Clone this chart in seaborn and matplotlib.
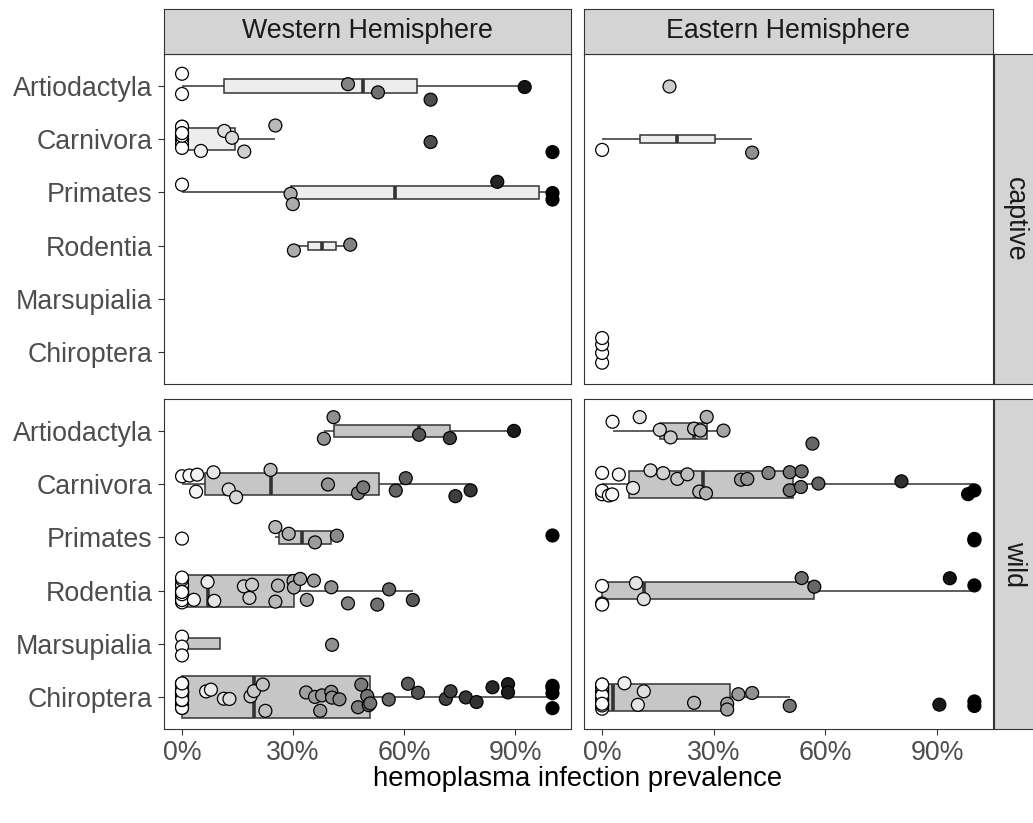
import numpy as np
import pandas as pd
import matplotlib
matplotlib.use("Agg")
import matplotlib.pyplot as plt
from matplotlib.colors import ListedColormap
from matplotlib.ticker import PercentFormatter
import seaborn as sns

ORDERS = ["Artiodactyla", "Carnivora", "Primates", "Rodentia", "Marsupialia", "Chiroptera"]
HEMISPHERES = ["Western Hemisphere", "Eastern Hemisphere"]
STATUSES = ["captive", "wild"]

# hemoplasma prevalence (%) per study
captive_west = {
    "Artiodactyla": [0, 0, 44.8, 52.9, 67.1, 92.5],
    "Carnivora": [0, 0, 0, 0, 0, 0, 0, 0, 0, 5.1, 11.4, 13.5, 16.8, 25.2, 67.1, 100],
    "Primates": [0, 29.3, 29.9, 85.1, 100, 100],
    "Rodentia": [30.2, 45.4],
}
captive_east = {
    "Artiodactyla": [18.1],
    "Carnivora": [0, 40.3],
    "Chiroptera": [0, 0, 0, 0],
}
wild_west = {
    "Artiodactyla": [38.3, 40.9, 64.0, 72.3, 89.6],
    "Carnivora": [0, 2.0, 3.8, 4.1, 8.5, 12.6, 14.6, 23.9, 39.4, 47.5, 48.9,
                  57.7, 60.4, 73.8, 77.9],
    "Primates": [0, 25.2, 28.8, 35.9, 41.8, 100],
    "Rodentia": [0] * 15 + [3.2, 6.9, 8.7, 16.7, 18.2, 18.9, 25.2, 25.9, 30.1, 30.2,
                            31.9, 33.7, 35.6, 40.3, 44.8, 52.7, 55.9, 62.3],
    "Marsupialia": [0, 0, 0, 40.5],
    "Chiroptera": [0] * 23 + [6.5, 7.8, 11.3, 12.8, 18.5, 19.4, 21.8, 22.5, 33.5, 35.9,
                              37.3, 37.8, 40.3, 40.5, 42.5, 47.5, 48.4, 50.0, 50.4, 50.8,
                              55.8, 61.0, 63.7, 71.2, 72.5, 76.6, 79.5, 83.8, 88.0, 88.0,
                              100, 100, 100, 100],
}
wild_east = {
    "Artiodactyla": [2.8, 10.1, 15.5, 18.4, 24.7, 26.4, 28.1, 32.6, 56.5],
    "Carnivora": [0, 0, 0, 1.8, 2.7, 4.5, 8.3, 13.0, 16.4, 20.2, 22.9, 26.1, 27.9,
                  37.3, 39.0, 44.7, 50.4, 50.4, 53.4, 53.6, 58.1, 80.4, 98.3, 100],
    "Primates": [100, 100],
    "Rodentia": [0, 0, 0, 9.1, 11.2, 53.6, 57.0, 93.4, 100],
    "Chiroptera": [0] * 12 + [6.0, 9.6, 11.2, 24.7, 33.6, 33.6, 36.6, 40.3, 50.4,
                              90.6, 100, 100],
}

panels = {
    ("captive", "Western Hemisphere"): captive_west,
    ("captive", "Eastern Hemisphere"): captive_east,
    ("wild", "Western Hemisphere"): wild_west,
    ("wild", "Eastern Hemisphere"): wild_east,
}

rows = []
for (status, hemi), panel in panels.items():
    for order, vals in panel.items():
        for v in vals:
            rows.append((status, hemi, order, v))
df = pd.DataFrame(rows, columns=["status", "hemisphere", "order", "prevalence"])

# white -> black gradient interpolated in Lab lightness (like ggplot)
L = np.linspace(100, 0, 256)
fy = (L + 16) / 116
Y = np.where(L > 8, fy ** 3, L / 903.3)
srgb = np.where(Y <= 0.0031308, 12.92 * Y, 1.055 * Y ** (1 / 2.4) - 0.055)
grey_cmap = ListedColormap(np.column_stack([srgb, srgb, srgb]))

BOX_FILL = {"captive": "#EDEDED", "wild": "#C6C6C6"}
BOX_K = 0.104  # varwidth: box height proportional to sqrt(n)
LINE = "#333333"

sns.set_style("white")
plt.rcParams["font.family"] = ["Liberation Sans", "DejaVu Sans"]

W, H = 1033, 823
fig = plt.figure(figsize=(W / 100, H / 100), dpi=100)


def rect(x0, y0, x1, y1):
    return [x0 / W, 1 - y1 / H, (x1 - x0) / W, (y1 - y0) / H]


col_x = [(163.5, 571), (583.5, 993)]
row_y = [(54, 384), (399, 729)]
FS = 19.3

for r, status in enumerate(STATUSES):
    for c, hemi in enumerate(HEMISPHERES):
        ax = fig.add_axes(rect(col_x[c][0], row_y[r][0], col_x[c][1], row_y[r][1]))
        sub = df[(df.status == status) & (df.hemisphere == hemi)]
        for order in ORDERS:
            grp = sub[sub.order == order]
            if grp.empty:
                continue
            sns.boxplot(data=grp, x="prevalence", y="order", order=ORDERS, orient="h",
                        width=BOX_K * np.sqrt(len(grp)), color=BOX_FILL[status],
                        saturation=1, linecolor=LINE, linewidth=1.1,
                        showfliers=False, showcaps=False,
                        medianprops={"linewidth": 2.6}, ax=ax)
        np.random.seed(7 + 3 * r + c)
        sns.stripplot(data=sub, x="prevalence", y="order", order=ORDERS, orient="h",
                      hue="prevalence", palette=grey_cmap, hue_norm=(0, 100),
                      legend=False, jitter=0.27, size=9.3, linewidth=0.9,
                      edgecolor="black", ax=ax)
        ax.set_xlim(-5, 105)
        ax.set_ylim(5.6, -0.6)
        ax.set_xticks([0, 30, 60, 90])
        ax.xaxis.set_major_formatter(PercentFormatter(decimals=0))
        ax.set_xlabel("")
        ax.set_ylabel("")
        for sp in ax.spines.values():
            sp.set_color(LINE)
            sp.set_linewidth(0.8)
        ax.tick_params(axis="both", length=4, width=0.8, color=LINE,
                       labelcolor="#4D4D4D", labelsize=FS, pad=4)
        ax.tick_params(axis="y", left=(c == 0), labelleft=(c == 0))
        ax.tick_params(axis="x", bottom=(r == 1), labelbottom=(r == 1))

        if r == 0:
            st = fig.add_axes(rect(col_x[c][0], 9, col_x[c][1], 53.5))
            st.set_facecolor("#D4D4D4")
            st.set_xticks([])
            st.set_yticks([])
            for sp in st.spines.values():
                sp.set_color(LINE)
                sp.set_linewidth(0.8)
            st.text(0.5, 0.5, hemi, ha="center", va="center", fontsize=FS,
                    color="#1A1A1A", transform=st.transAxes)
        if c == 1:
            st = fig.add_axes(rect(993.5, row_y[r][0], 1038, row_y[r][1]))
            st.set_facecolor("#D4D4D4")
            st.set_xticks([])
            st.set_yticks([])
            for sp in st.spines.values():
                sp.set_color(LINE)
                sp.set_linewidth(0.8)
            st.text(0.47, 0.5, status, ha="center", va="center", fontsize=FS,
                    color="#1A1A1A", rotation=-90, transform=st.transAxes)

fig.text(578 / W, 1 - 779 / H, "hemoplasma infection prevalence", ha="center",
         va="center", fontsize=19.8, color="black")

fig.savefig("out.png", dpi=100)
